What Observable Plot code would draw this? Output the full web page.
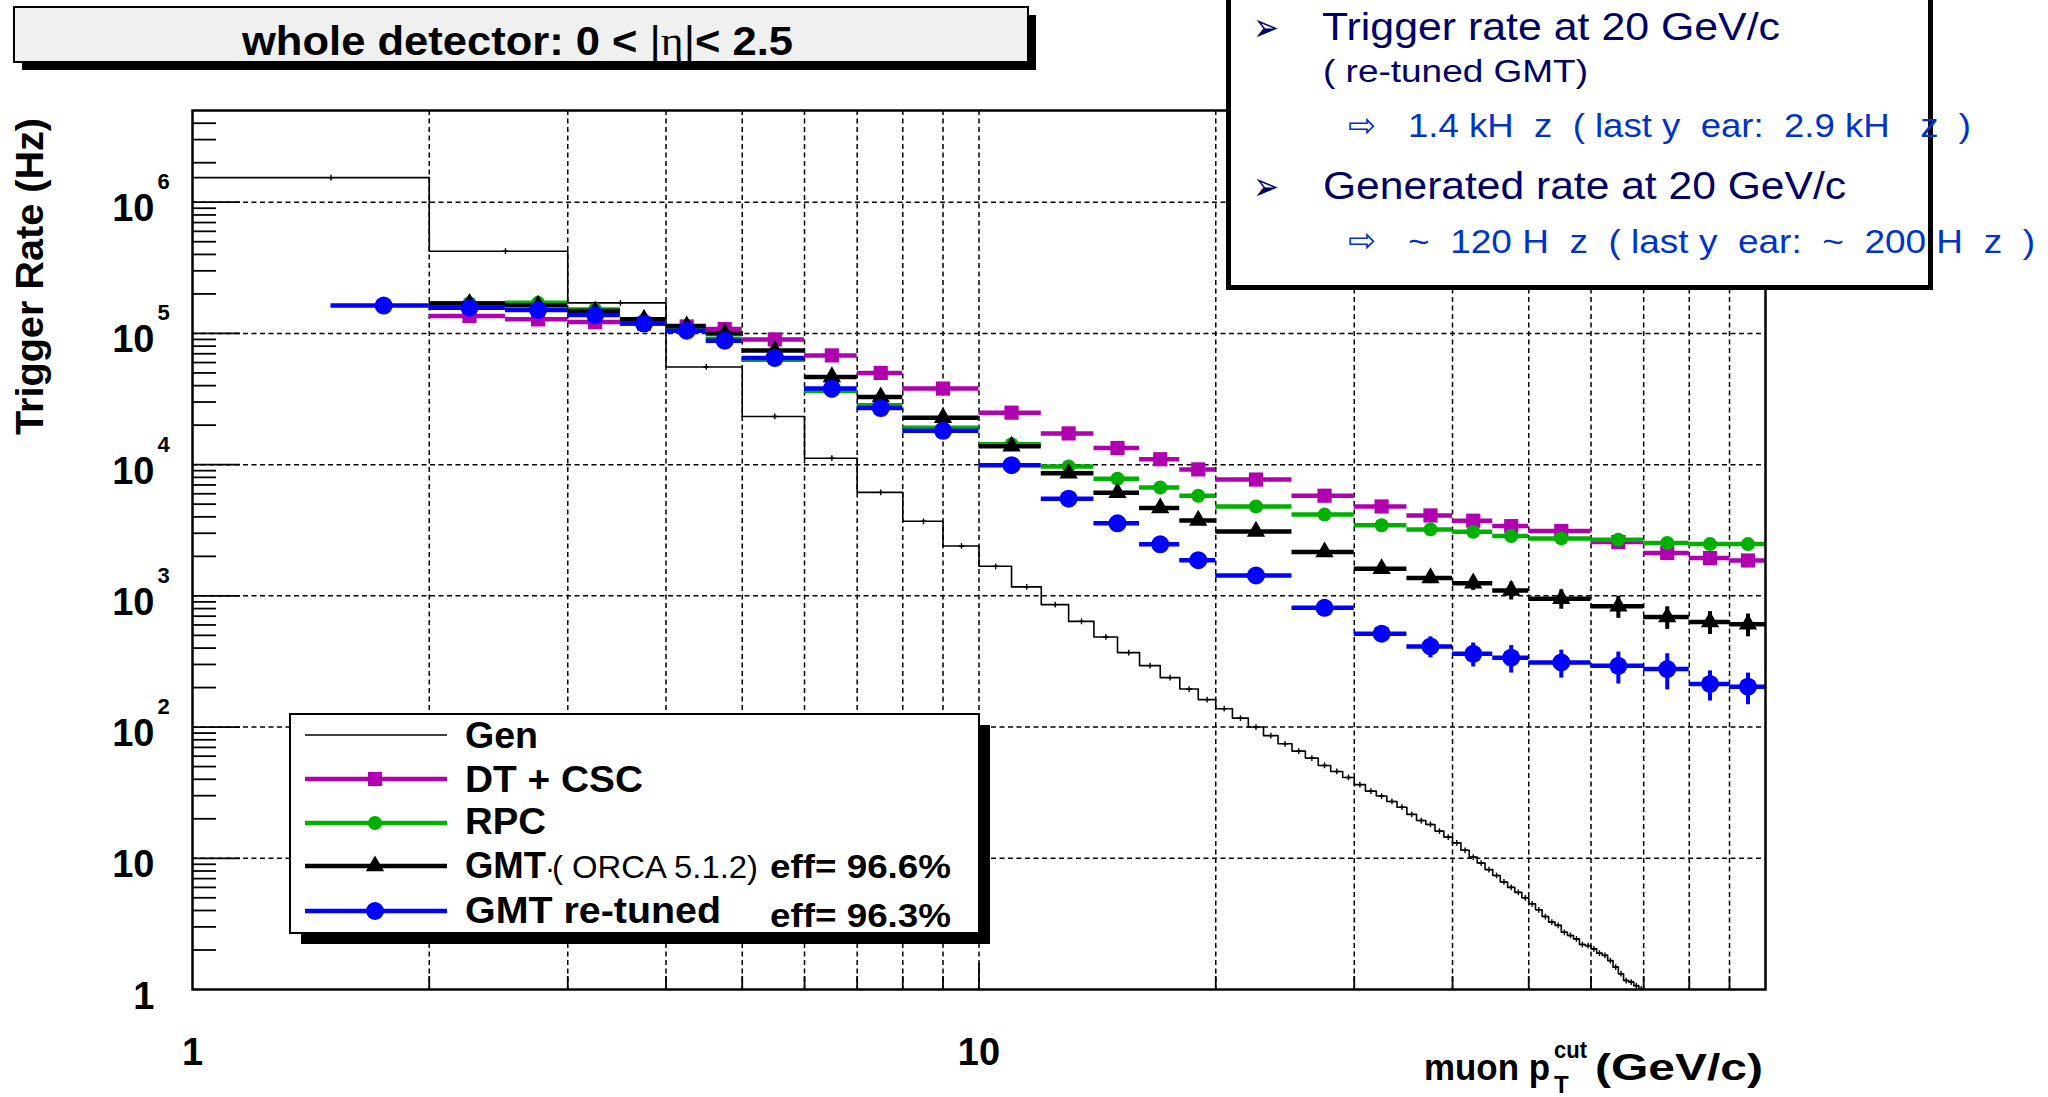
<!DOCTYPE html>
<html><head><meta charset="utf-8">
<script src="https://cdn.jsdelivr.net/npm/d3@7"></script>
<script src="https://cdn.jsdelivr.net/npm/@observablehq/plot@0.6"></script>
<style>
html,body{margin:0;padding:0;background:#fff;}
#wrap{position:relative;width:2048px;height:1097px;overflow:hidden;background:#fff;}
#wrap svg{position:absolute;left:0;top:0;}
</style></head><body><div id="wrap"></div>
<script>
// ---------- data ----------
// L1 trigger pT thresholds (bin edges, GeV/c)
const thresholds = [1.5,2,2.5,3,3.5,4,4.5,5,6,7,8,10,12,14,16,18,20,25,30,35,40,45,50,60,70,80,90,100];
// trigger rates (Hz), one per threshold bin
const dtcsc = [null,1.36e5,1.28e5,1.22e5,1.19e5,1.13e5,1.08e5,9.0e4,6.8e4,5.0e4,3.8e4,2.49e4,1.73e4,1.34e4,1.10e4,9.2e3,7.7e3,5.8e3,4.8e3,4.1e3,3.74e3,3.4e3,3.12e3,2.57e3,2.12e3,1.94e3,1.86e3];
const rpc   = [null,1.70e5,1.71e5,1.52e5,1.25e5,1.09e5,9.1e4,6.3e4,3.64e4,2.83e4,1.91e4,1.43e4,9.7e3,7.8e3,6.7e3,5.8e3,4.8e3,4.16e3,3.45e3,3.21e3,3.08e3,2.86e3,2.74e3,2.68e3,2.53e3,2.48e3,2.48e3];
const gmt   = [null,1.69e5,1.64e5,1.48e5,1.28e5,1.14e5,1.0e5,7.4e4,4.66e4,3.28e4,2.28e4,1.38e4,8.6e3,6.1e3,4.67e3,3.76e3,3.1e3,2.16e3,1.61e3,1.37e3,1.25e3,1.10e3,951,834,690,633,607];
const gmtErr= [0,0,0,0,0,0,0,0,0,0,0,0,0,0,0,0,0,0,120,130,150,170,160,160,135,125,120];
const gmtRe = [1.63e5,1.57e5,1.51e5,1.38e5,1.19e5,1.05e5,8.8e4,6.5e4,3.8e4,2.7e4,1.81e4,9.9e3,5.5e3,3.57e3,2.47e3,1.87e3,1.43e3,810,515,412,362,338,311,293,277,213,203];
const gmtReErr=[0,0,0,0,0,0,0,0,0,0,0,0,0,0,0,0,100,80,60,75,75,80,75,80,85,55,55];
// generated rate, 1 GeV/c bins starting at 1 GeV/c
const genStart = 1;
const gen = [1.54e6,4.23e5,1.71e5,5.55e4,2.33e4,1.12e4,6.15e3,3.70e3,2.40e3,1.68e3,
  1.17e3,857,639,486,369,294,238,195,162,138,
  117,100,86,74.6,65.6,58,51,45.9,41.3,36.4,
  32.5,29.8,27.1,24.5,21.6,19.4,18.1,16.1,14.5,13.1,
  11.5,10.2,9.2,8.2,7.4,6.6,6.0,5.5,5.0,4.5,
  4.05,3.6,3.26,3.08,2.73,2.58,2.43,2.2,2.16,2.04,
  1.89,1.82,1.66,1.48,1.32,1.17,1.14,1.07,1.01,0.8];
// axes
const xGrid = [2,3,4,5,6,7,8,9,10,20,30,40,50,60,70,80,90];
const xMajorTicks = [10];
const xMinorTicks = [2,3,4,5,6,7,8,9,20,30,40,50,60,70,80,90];
const xLabelValues = [1,10];
const xLabelText = ["1","10"];
const yGrid = [10,100,1e3,1e4,1e5,1e6];
const yMajorTicks = [10,100,1e3,1e4,1e5,1e6];
const yMinorTicks = [2,3,4,5,6,7,8,9,20,30,40,50,60,70,80,90,200,300,400,500,600,700,800,900,
  2e3,3e3,4e3,5e3,6e3,7e3,8e3,9e3,2e4,3e4,4e4,5e4,6e4,7e4,8e4,9e4,2e5,3e5,4e5,5e5,6e5,7e5,8e5,9e5,2e6,3e6,4e6];
const yLabelValues = [1,10,100,1e3,1e4,1e5,1e6];
const yLabelBase = ["1","10","10","10","10","10","10"];
const yLabelExp  = ["","","2","3","4","5","6"];

const seriesNames = ["Gen","DT + CSC","RPC","GMT","GMT re-tuned"];
const colors = {dt:"#b000b0", rpc:"#00b000", gmt:"#000000", re:"#0000ff"};

// ---------- tables ----------
function rows(vals, errs){
  const out=[];
  for(let i=0;i<vals.length;i++){
    if(vals[i]==null) continue;
    const lo=thresholds[i], hi=thresholds[i+1];
    out.push({lo, hi, mid:(lo+hi)/2, v:vals[i], e: errs? errs[i]:0});
  }
  return out;
}
const dtRows=rows(dtcsc), rpcRows=rows(rpc), gmtRows=rows(gmt,gmtErr), reRows=rows(gmtRe,gmtReErr);
const genPts = gen.map((v,i)=>({x:genStart+i, y:v}));
genPts.push({x:genStart+gen.length, y:gen[gen.length-1]});
const genCenters = gen.map((v,i)=>({x:genStart+i+0.5, y:v}));

// ---------- geometry ----------
const W=2048,H=1097, mL=192, mR=283, mT=110, mB=108;
const fw=W-mL-mR, fh=H-mT-mB;
const mk = {dt:8, rpc:7, gmt:6.8, re:9};

function seriesMarks(r, color, symbol, rad){
  return [
    Plot.ruleY(r,{y:"v",x1:"lo",x2:"hi",stroke:color,strokeWidth:4.5,clip:true}),
    Plot.ruleX(r.filter(d=>d.e>0),{x:"mid",y1:d=>d.v-d.e,y2:d=>d.v+d.e,stroke:color,strokeWidth:4,clip:true}),
    Plot.dot(r,{x:"mid",y:"v",symbol,r:rad,fill:color,stroke:"none",clip:true})
  ];
}

const font = "Liberation Sans, Arial, Helvetica, sans-serif";
const chart = Plot.plot({
  width:W, height:H, marginLeft:mL, marginRight:mR, marginTop:mT, marginBottom:mB,
  style:{background:"white", fontFamily:font, overflow:"visible"},
  x:{type:"log", domain:[1,100], axis:null},
  y:{type:"log", domain:[1,5e6], axis:null},
  marks:[
    Plot.ruleX(xGrid,{x:d=>d,stroke:"black",strokeWidth:1.5,strokeDasharray:"5,3.5"}),
    Plot.ruleY(yGrid,{y:d=>d,stroke:"black",strokeWidth:1.5,strokeDasharray:"5,3.5"}),
    Plot.line(genPts,{x:"x",y:"y",curve:"step-after",stroke:"black",strokeWidth:1.6,clip:true}),
    Plot.dot(genCenters,{x:"x",y:"y",symbol:"plus",r:2,stroke:"black",strokeWidth:1.4,clip:true}),
    ...seriesMarks(dtRows,colors.dt,"square",mk.dt),
    ...seriesMarks(rpcRows,colors.rpc,"circle",mk.rpc),
    ...seriesMarks(gmtRows,colors.gmt,"triangle",mk.gmt),
    ...seriesMarks(reRows,colors.re,"circle",mk.re),
    Plot.tickY(yMinorTicks,{y:d=>d,insetRight:fw-24,stroke:"black",strokeWidth:1.8}),
    Plot.tickY(yMajorTicks,{y:d=>d,insetRight:fw-48,stroke:"black",strokeWidth:1.8}),
    Plot.tickX(xMinorTicks,{x:d=>d,insetTop:fh-13,stroke:"black",strokeWidth:1.8}),
    Plot.tickX(xMajorTicks,{x:d=>d,insetTop:fh-26,stroke:"black",strokeWidth:1.8}),
    Plot.frame({stroke:"black",strokeWidth:2.5}),
    Plot.text(yLabelValues,{y:d=>d,text:(d,i)=>yLabelBase[i],frameAnchor:"left",dx:-38,dy:19,textAnchor:"end",lineAnchor:"bottom",fontSize:38,fontWeight:"bold"}),
    Plot.text(yLabelValues,{y:d=>d,text:(d,i)=>yLabelExp[i],frameAnchor:"left",dx:-35,dy:-13,textAnchor:"start",lineAnchor:"bottom",fontSize:22,fontWeight:"bold"}),
    Plot.text(xLabelValues,{x:d=>d,text:(d,i)=>xLabelText[i],frameAnchor:"bottom",dy:75,textAnchor:"middle",lineAnchor:"bottom",fontSize:38,fontWeight:"bold"})
  ]
});
document.getElementById("wrap").appendChild(chart);

// ---------- overlay: title, annotations, legend ----------
const ov = d3.select("#wrap").append("svg").attr("width",W).attr("height",H)
  .style("font-family",font).style("pointer-events","none");
function txt(g,x,y,s,o={}){
  const t=g.append("text").attr("x",x).attr("y",y).text(s)
    .attr("font-size",o.size||38).attr("font-weight",o.weight||"normal")
    .attr("fill",o.fill||"black").style("white-space","pre");
  if(o.anchor) t.attr("text-anchor",o.anchor);
  if(o.len) t.attr("textLength",o.len).attr("lengthAdjust","spacingAndGlyphs");
  if(o.family) t.attr("font-family",o.family);
  return t;
}
// title box
ov.append("rect").attr("x",22).attr("y",15).attr("width",1014).attr("height",55).attr("fill","black");
ov.append("rect").attr("x",14).attr("y",7).attr("width",1014).attr("height",55).attr("fill","#f0f0f0").attr("stroke","black").attr("stroke-width",2);
{
  const t=ov.append("text").attr("x",242).attr("y",55).attr("font-size",41).attr("font-weight","bold")
    .attr("textLength",551).attr("lengthAdjust","spacingAndGlyphs").style("white-space","pre");
  t.append("tspan").text("whole detector: 0 < ");
  t.append("tspan").attr("font-weight","normal").text("|");
  t.append("tspan").attr("font-weight","normal").attr("font-family","Liberation Serif, serif").text("η");
  t.append("tspan").attr("font-weight","normal").text("|");
  t.append("tspan").text("< 2.5");
}
// axis titles
ov.append("text").attr("transform","translate(43,276.5) rotate(-90)").attr("text-anchor","middle")
  .attr("font-size",39).attr("font-weight","bold").attr("textLength",317).attr("lengthAdjust","spacingAndGlyphs")
  .text("Trigger Rate (Hz)");
txt(ov,1424,1080,"muon p",{size:37,weight:"bold",len:126});
txt(ov,1554,1093,"T",{size:24,weight:"bold"});
txt(ov,1554,1058,"cut",{size:24,weight:"bold",len:33});
txt(ov,1763,1080,"(GeV/c)",{size:37,weight:"bold",anchor:"end",len:168});

// annotation box (top right)
ov.append("rect").attr("x",1228.5).attr("y",-10).attr("width",702).attr("height",297.5)
  .attr("fill","white").attr("stroke","black").attr("stroke-width",5);
const navy="#000066", lblue="#0033cc";
txt(ov,1253,41,"➢",{size:40,fill:navy,family:"DejaVu Sans",len:26});
txt(ov,1322,40,"Trigger rate at 20 GeV/c",{size:39,fill:navy,len:458});
txt(ov,1323,82,"( re-tuned GMT)",{size:31,fill:navy,len:265});
txt(ov,1348,137,"⇨",{size:34,fill:lblue,family:"DejaVu Sans",len:28});
txt(ov,1408,137,"1.4 kH  z  ( last y  ear:  2.9 kH   z  )",{size:33,fill:lblue,len:563});
txt(ov,1253,200,"➢",{size:40,fill:navy,family:"DejaVu Sans",len:26});
txt(ov,1323,199,"Generated rate at 20 GeV/c",{size:39,fill:navy,len:523});
txt(ov,1348,252,"⇨",{size:34,fill:lblue,family:"DejaVu Sans",len:28});
txt(ov,1408,253,"~  120 H  z  ( last y  ear:  ~  200 H  z  )",{size:33,fill:lblue,len:627});

// legend
ov.append("rect").attr("x",301).attr("y",725).attr("width",689).attr("height",219).attr("fill","black");
ov.append("rect").attr("x",290).attr("y",714).attr("width",689).attr("height",219).attr("fill","white").attr("stroke","black").attr("stroke-width",2);
const legRows=[
  {name:seriesNames[0],ly:735,by:748,color:"black",w:1.6,sym:null,len:73},
  {name:seriesNames[1],ly:779,by:792,color:colors.dt,w:4.5,sym:d3.symbolSquare,r:mk.dt,len:178},
  {name:seriesNames[2],ly:823,by:834,color:colors.rpc,w:4.5,sym:d3.symbolCircle,r:mk.rpc,len:81},
  {name:seriesNames[3],ly:866,by:878,color:colors.gmt,w:4.5,sym:d3.symbolTriangle,r:mk.gmt,len:81},
  {name:seriesNames[4],ly:911,by:923,color:colors.re,w:4.5,sym:d3.symbolCircle,r:mk.re,len:256}
];
for(const r of legRows){
  ov.append("line").attr("x1",305).attr("x2",447).attr("y1",r.ly).attr("y2",r.ly).attr("stroke",r.color).attr("stroke-width",r.w);
  if(r.sym) ov.append("path").attr("transform",`translate(375,${r.ly})`).attr("d",d3.symbol(r.sym,Math.PI*r.r*r.r)()).attr("fill",r.color);
  txt(ov,465,r.by,r.name,{size:37,weight:"bold",len:r.len});
}
txt(ov,545,878,"·",{size:30});
txt(ov,552,878,"( ORCA 5.1.2)",{size:31,len:206});
txt(ov,770,878,"eff= 96.6%",{size:33,weight:"bold",len:181});
txt(ov,770,927,"eff= 96.3%",{size:33,weight:"bold",len:181});
</script></body></html>
